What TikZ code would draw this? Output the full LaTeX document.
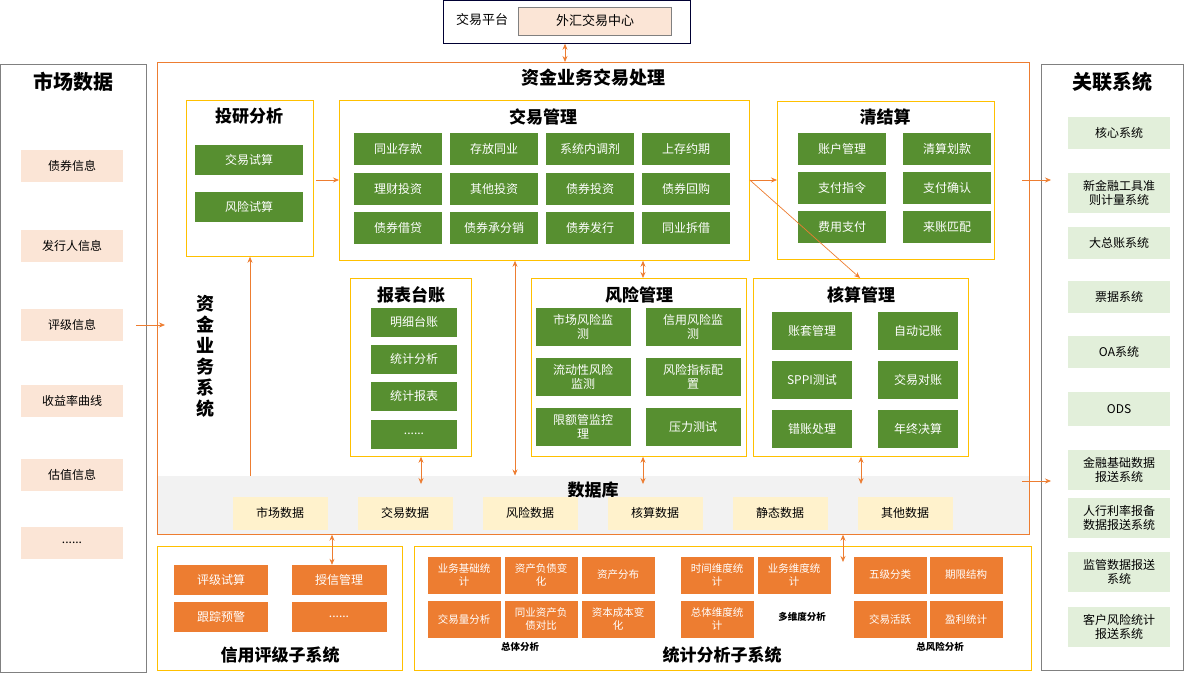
\documentclass[tikz,border=0pt]{standalone}
\usepackage{fontspec}
\setmainfont{Noto Sans CJK SC}
\usetikzlibrary{arrows.meta}
\definecolor{gr}{HTML}{578F30}
\definecolor{og}{HTML}{ED7D31}
\definecolor{yb}{HTML}{FFC000}
\definecolor{pe}{HTML}{FBE5D6}
\definecolor{lg}{HTML}{E2EFDA}
\definecolor{lb}{HTML}{FFF2CC}
\definecolor{db}{HTML}{F2F2F2}
\newcommand\mydots{......}
\begin{document}
\begin{tikzpicture}[x=1pt,y=-1pt,
 every node/.style={inner sep=0pt,align=center},
 frame/.style={draw=yb,line width=0.8pt,fill=white},
 g/.style={fill=gr,text=white,font=\fontsize{12}{14}\selectfont},
 o/.style={fill=og,text=white,font=\fontsize{12}{14}\selectfont},
 os/.style={fill=og,text=white,font=\fontsize{10.5}{12.5}\selectfont,minimum width=73,minimum height=37},
 p/.style={fill=pe,font=\fontsize{12}{14}\selectfont,minimum width=102,minimum height=32},
 r/.style={fill=lg,font=\fontsize{12}{14}\selectfont,minimum width=102,minimum height=32},
 d/.style={fill=lb,font=\fontsize{12}{14}\selectfont,minimum width=95,minimum height=33},
 ttl/.style={font=\fontsize{17}{19}\selectfont\bfseries},
 ar/.style={draw=og,line width=0.7pt,-{Stealth[length=6pt,width=5pt]}},
 dar/.style={draw=og,line width=0.7pt,{Stealth[length=6pt,width=5pt]}-{Stealth[length=6pt,width=5pt]}}]
\useasboundingbox (0,0) rectangle (1184,678);
% top
\node[draw=black!80!blue,line width=0.8pt,minimum width=247,minimum height=43,anchor=north west] (top) at (443,0) {};
\node[font=\fontsize{13}{15}\selectfont] (jypt) at (482,20) {交易平台};
\node[draw=gray,fill=pe,minimum width=153,minimum height=28,font=\fontsize{13}{15}\selectfont] (wh) at (595,21) {外汇交易中心};
% left market
\node[draw=gray,line width=0.6pt,minimum width=146,minimum height=608,anchor=north west] (mkt) at (0,64) {};
\node[font=\fontsize{20}{22}\selectfont\bfseries] (mktt) at (73,82) {市场数据};
\foreach \n/\y/\t in {m1/166/债券信息,m2/246/发行人信息,m3/325/评级信息,m4/401/收益率曲线,m5/475/估值信息,m6/543/\mydots}
  \node[p] (\n) at (72,\y) {\t};
% main
\node[draw=og,line width=0.7pt,minimum width=872,minimum height=472,anchor=north west] (main) at (157,62) {};
\node[fill=db,minimum width=871,minimum height=58,anchor=north west] (dbbg) at (157.5,475.5) {};
\node[font=\fontsize{18}{20}\selectfont\bfseries] (maint) at (593,78) {资金业务交易处理};
\node[font=\fontsize{18}{21}\selectfont\bfseries,text width=20] (vt) at (205,356) {资\\金\\业\\务\\系\\统};
% 投研分析
\node[frame,minimum width=127,minimum height=156,anchor=north west] (ty) at (186,100) {};
\node[ttl] (tyt) at (249,116) {投研分析};
\node[g,minimum width=108,minimum height=30] (ty1) at (249,160) {交易试算};
\node[g,minimum width=108,minimum height=30] (ty2) at (249,207) {风险试算};
% 交易管理
\node[frame,minimum width=410,minimum height=160,anchor=north west] (jy) at (339,100) {};
\node[ttl] (jyt) at (543,117) {交易管理};
\foreach \t [count=\i from 0] in {同业存款,存放同业,系统内调剂,上存约期,理财投资,其他投资,债券投资,债券回购,债券借贷,债券承分销,债券发行,同业拆借}{
  \pgfmathtruncatemacro\c{mod(\i,4)}\pgfmathtruncatemacro\rr{div(\i,4)}
  \node[g,minimum width=88,minimum height=32] (j\i) at (398+96*\c,149+39.5*\rr) {\t};}
% 清结算
\node[frame,minimum width=217,minimum height=158,anchor=north west] (qj) at (777,101) {};
\node[ttl] (qjt) at (885,117) {清结算};
\foreach \t [count=\i from 0] in {账户管理,清算划款,支付指令,支付确认,费用支付,来账匹配}{
  \pgfmathtruncatemacro\c{mod(\i,2)}\pgfmathtruncatemacro\rr{div(\i,2)}
  \node[g,minimum width=88,minimum height=32] (q\i) at (842+105*\c,149+39*\rr) {\t};}
% 报表台账
\node[frame,minimum width=121,minimum height=178,anchor=north west] (bb) at (350,278) {};
\node[ttl] (bbt) at (411,295) {报表台账};
\foreach \t/\y [count=\i] in {明细台账/322,统计分析/359,统计报表/396,\mydots/434}
  \node[g,minimum width=86,minimum height=29] (b\i) at (414,\y) {\t};
% 风险管理
\node[frame,minimum width=215,minimum height=178,anchor=north west] (fx) at (531,278) {};
\node[ttl] (fxt) at (639,295) {风险管理};
\foreach \t [count=\i from 0] in {市场风险监\\测,信用风险监\\测,流动性风险\\监测,风险指标配\\置,限额管监控\\理,压力测试}{
  \pgfmathtruncatemacro\c{mod(\i,2)}\pgfmathtruncatemacro\rr{div(\i,2)}
  \node[g,minimum width=95,minimum height=38] (f\i) at (583+110*\c,327+50*\rr) {\t};}
% 核算管理
\node[frame,minimum width=215,minimum height=178,anchor=north west] (hs) at (753,278) {};
\node[ttl] (hst) at (861,295) {核算管理};
\foreach \t [count=\i from 0] in {账套管理,自动记账,SPPI测试,交易对账,错账处理,年终决算}{
  \pgfmathtruncatemacro\c{mod(\i,2)}\pgfmathtruncatemacro\rr{div(\i,2)}
  \node[g,minimum width=80,minimum height=38] (h\i) at (812+106*\c,331+49*\rr) {\t};}
% 数据库
\node[ttl] (dbt) at (593,490) {数据库};
\foreach \t [count=\i from 0] in {市场数据,交易数据,风险数据,核算数据,静态数据,其他数据}
  \node[d] (d\i) at (280+125*\i,513) {\t};
% right
\node[draw=gray,line width=0.6pt,minimum width=142,minimum height=606,anchor=north west] (rel) at (1041,64) {};
\node[font=\fontsize{20}{22}\selectfont\bfseries] (relt) at (1112,82) {关联系统};
\foreach \n/\y/\h/\t in {r1/133/32/核心系统,r2/193/40/新金融工具准\\则计量系统,r3/243/32/大总账系统,r4/297/32/票据系统,r5/352/32/OA系统,r6/409/34/ODS,r7/470/40/金融基础数据\\报送系统,r8/518/40/人行利率报备\\数据报送系统,r9/572/40/监管数据报送\\系统,r10/627/40/客户风险统计\\报送系统}
  \node[r,minimum height=\h] (\n) at (1119,\y) {\t};
% credit
\node[frame,minimum width=245,minimum height=124,anchor=north west] (cr) at (157,546) {};
\node[o,minimum width=94,minimum height=30] (c1) at (221,580) {评级试算};
\node[o,minimum width=95,minimum height=30] (c2) at (339,580) {授信管理};
\node[o,minimum width=94,minimum height=30] (c3) at (221,617) {跟踪预警};
\node[o,minimum width=95,minimum height=30] (c4) at (339,617) {\mydots};
\node[ttl] (crt) at (280,655) {信用评级子系统};
% stats
\node[frame,minimum width=617,minimum height=124,anchor=north west] (st) at (414,546) {};
\node[os] (s1) at (464,575) {业务基础统\\计};
\node[os] (s2) at (541,575) {资产负债变\\化};
\node[os] (s3) at (618,575) {资产分布};
\node[os] (s4) at (464,619) {交易量分析};
\node[os] (s5) at (541,619) {同业资产负\\债对比};
\node[os] (s6) at (618,619) {资本成本变\\化};
\node[os] (s7) at (717,575) {时间维度统\\计};
\node[os] (s8) at (794,575) {业务维度统\\计};
\node[os] (s9) at (717,619) {总体维度统\\计};
\node[os] (s10) at (890,575) {五级分类};
\node[os] (s11) at (966,575) {期限结构};
\node[os] (s12) at (890,619) {交易活跃};
\node[os] (s13) at (966,619) {盈利统计};
\node[font=\fontsize{9.5}{11}\selectfont\bfseries] (sa) at (802,617) {多维度分析};
\node[font=\fontsize{9.5}{11}\selectfont\bfseries] (sb) at (520,647) {总体分析};
\node[font=\fontsize{9.5}{11}\selectfont\bfseries] (sc) at (940,647) {总风险分析};
\node[ttl] (stt) at (722,655) {统计分析子系统};
% arrows
\coordinate (a1) at (136,325);
\coordinate (a2) at (316,180);
\coordinate (a3) at (1022,180);
\coordinate (a4) at (1022,481);
\draw[dar] (top.south -| 565,0) -- (main.north -| 565,0);
\draw[ar] (a1) -- ([xshift=8]main.west |- m3);
\draw[ar] (a2) -- (jy.west |- a2);
\draw[ar] (jy.east |- a2) -- (qj.west |- a2);
\draw[ar] (jy.east |- a2) -- (hs.north -| 860,0);
\draw[ar] (dbbg.north -| 250,0) -- (ty.south -| 250,0);
\draw[dar] (jy.south -| 643,0) -- (fx.north -| 643,0);
\draw[dar] (jy.south -| 515,0) -- (dbbg.north -| 515,0);
\draw[dar] (bb.south -| 421,0) -- (421,484);
\draw[dar] (fx.south -| 643,0) -- (643,484);
\draw[dar] (hs.south -| 861,0) -- (861,484);
\draw[ar] (a3) -- ([xshift=10]rel.west |- a3);
\draw[ar] (a4) -- ([xshift=10]rel.west |- a4);
\draw[dar] (main.south -| 332,0) -- (c2.north -| 332,0);
\draw[dar] (main.south -| 843,0) -- (843,562);
\end{tikzpicture}
\end{document}
